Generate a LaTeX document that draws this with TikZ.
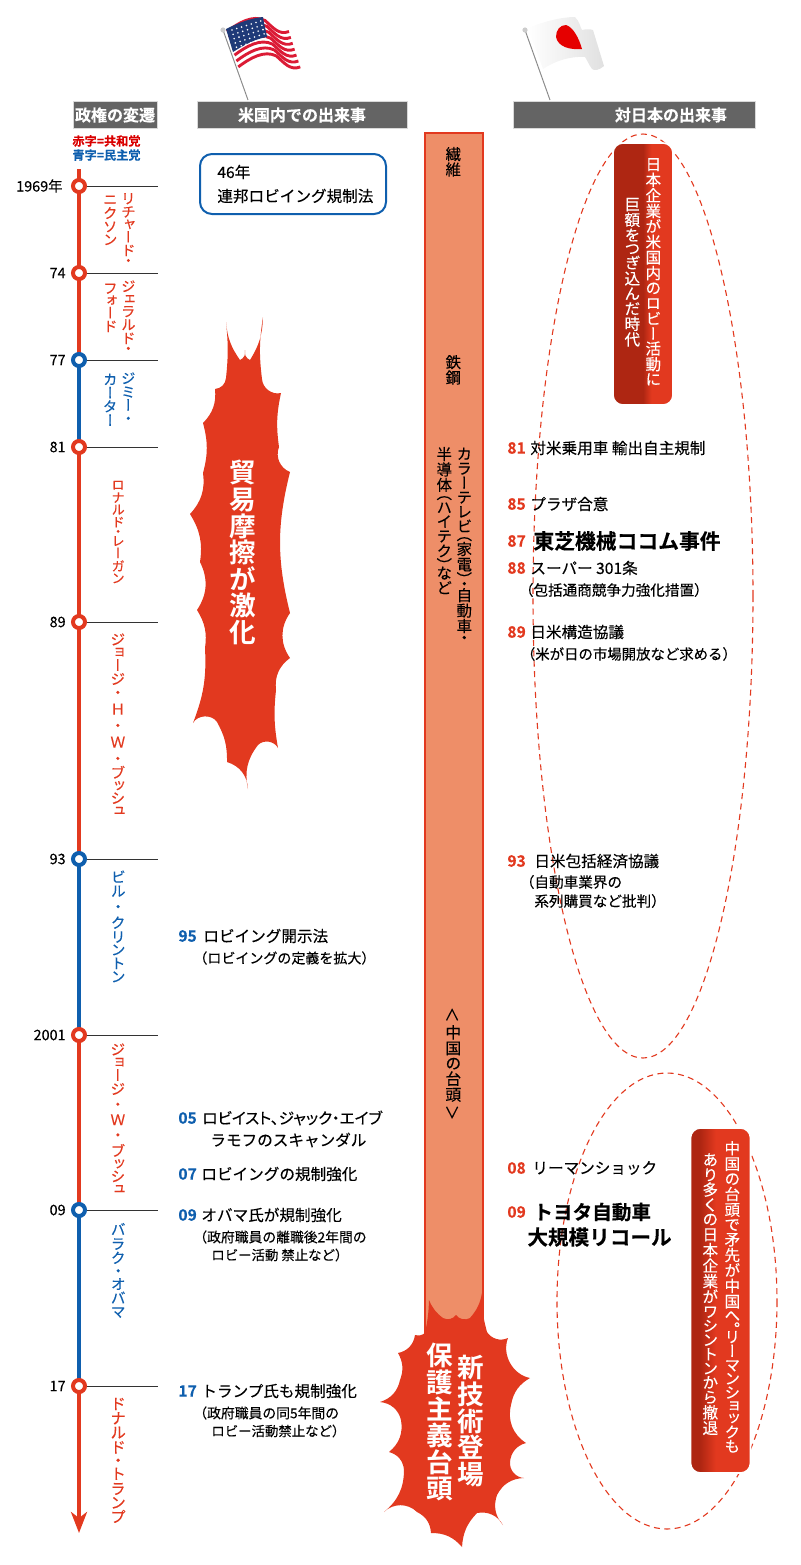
\documentclass[tikz,border=0pt]{standalone}
\usepackage{fontspec}
\setmainfont{Noto Sans CJK JP}[FakeBold=0.25,BoldFont={Noto Sans CJK JP Bold}]
\newfontfamily\tatefont{Noto Sans CJK JP}[RawFeature={vertical;+vpal},FakeBold=0.25]
\newfontfamily\tateboldfont{Noto Sans CJK JP Bold}[RawFeature={vertical}]
\usetikzlibrary{arrows.meta}
\definecolor{redline}{HTML}{E2391F}
\definecolor{darkred}{HTML}{AE2612}
\definecolor{blueline}{HTML}{0F5FAE}
\definecolor{bandfill}{HTML}{EE8E68}
\definecolor{headgray}{HTML}{646464}
\definecolor{flagnavy}{HTML}{1F3A78}
\definecolor{flagred}{HTML}{DB1B35}
\pgfdeclarehorizontalshading{erashadeA}{100bp}{color(0bp)=(darkred); color(50bp)=(darkred); color(57bp)=(redline); color(100bp)=(redline)}
\pgfdeclarehorizontalshading{erashadeB}{100bp}{color(0bp)=(darkred); color(33bp)=(darkred); color(46bp)=(redline); color(100bp)=(redline)}
\tikzset{
    headbox/.style={fill=headgray,draw=black!15,line width=0.4pt,text=white,inner sep=0pt,minimum height=13.5pt,font=\bfseries\fontsize{8}{9}\selectfont},
    tate/.style={xshift=#1*0.4pt,rotate=-90,anchor=west,inner sep=0pt,font=\tatefont\fontsize{#1}{9}\selectfont},
    yeartext/.style={anchor=east,inner sep=0pt,font=\fontsize{7.2}{8}\selectfont},
    evmain/.style={anchor=west,inner sep=0pt,font=\fontsize{7.8}{9}\selectfont},
    evsub/.style={anchor=west,inner sep=0pt,font=\fontsize{#1}{8}\selectfont},
    evbig/.style={anchor=west,inner sep=0pt,font=\bfseries\fontsize{#1}{11}\selectfont},
    numred/.style={anchor=west,inner sep=0pt,text=redline,font=\bfseries\fontsize{7.8}{9}\selectfont},
    numblue/.style={anchor=west,inner sep=0pt,text=blueline,font=\bfseries\fontsize{7.8}{9}\selectfont},
    yeartick/.style={line width=0.4pt,draw=black!80},
    yearstop/.style={circle,fill=white,draw=#1,line width=2pt,minimum size=6pt,inner sep=0pt},
    bursttext/.style={xshift=5.2pt,rotate=-90,anchor=west,inner sep=0pt,text=white,font=\tateboldfont\fontsize{13.3}{15}\selectfont},
    eradash/.style={draw=redline,dashed,dash pattern=on 3pt off 2.2pt,line width=0.55pt},
    erabox/.style={draw=white,line width=0.8pt,rounded corners=5pt,inner sep=0pt,minimum width=30pt},
}
\begin{document}
\begin{tikzpicture}[x=0.5pt,y=-0.5pt]
    \useasboundingbox (0,0) rectangle (800,1565);
    % flags
    \draw[black!45,line width=0.5pt] (223,30) -- (248,100);
    \fill[black!20] (223,30) circle (1.3pt);
    \foreach \t in {0,2,4,6,8,10,12}{
        \pgfmathsetmacro\sx{227+\t*0.94}
        \pgfmathsetmacro\sy{31.5+\t*2.95}
        \draw[flagred,line width=1.45pt] (\sx,\sy) .. controls (\sx+12,\sy-9) and (\sx+26,\sy-17) .. (\sx+38,\sy-11) .. controls (\sx+46,\sy-4) and (\sx+52,\sy+4) .. (\sx+62,\sy);
    }
    \fill[flagnavy] (226,29) .. controls (240,22) and (252,18) .. (263,17) .. controls (264,24) and (266,31) .. (267,37) .. controls (255,39) and (244,45) .. (233,52) -- cycle;
    \foreach \a in {0,...,6}{
        \foreach \b in {0,...,4}{
            \fill[white] (232+\a*4.8+\b*1.1,30-\a*1.5+\b*4.3) circle (0.45pt);
        }
    }
    \draw[black!45,line width=0.5pt] (525,30) -- (550,100);
    \fill[black!20] (525,30) circle (1.3pt);
    \shade[left color=white,right color=black!12] (528,28) .. controls (545,21) and (562,17) .. (575,17) .. controls (580,22) and (580,27) .. (582,30) .. controls (586,29) and (590,29) .. (593,30) -- (604,66) .. controls (600,70) and (594,71) .. (592,69) .. controls (589,65) and (587,60) .. (585,57) .. controls (570,56) and (555,61) .. (543,69) -- cycle;
    \fill[red!90!black] (556,37) .. controls (556,30) and (560,25) .. (566,25) .. controls (573,27) and (579,38) .. (582,49) .. controls (570,50) and (558,47) .. (556,37) -- cycle;
    % headers
    \node[headbox,minimum width=42pt] (headA) at (115,115) {政権の変遷};
    \node[headbox,minimum width=105pt] (headB) at (302,115) {米国内での出来事};
    \node[headbox,minimum width=121pt,text width=121pt,align=left] (headC) at (634,115) {\hspace{51pt}対日本の出来事};
    \node[anchor=west,inner sep=0pt,text=red!85!black,font=\bfseries\fontsize{6.1}{6}\selectfont] (keyred) at (72,141) {赤字=共和党};
    \node[anchor=west,inner sep=0pt,text=blueline,font=\bfseries\fontsize{6.1}{6}\selectfont] (keyblue) at (72,155) {青字=民主党};
    % timeline
    \coordinate (top) at (79,169);
    \coordinate (end) at (79,1533);
    \foreach \y/\nm in {186/sA,273/sB,360/sC,447/sD,622/sE,859/sF,1035/sG,1210/sH,1386/sI}{
        \coordinate (\nm) at (79,\y);
        \coordinate (\nm e) at (158,\y);
    }
    \draw[redline,line width=2.1pt] (top) -- (sC);
    \draw[blueline,line width=2.1pt] (sC) -- (sD);
    \draw[redline,line width=2.1pt] (sD) -- (sF);
    \draw[blueline,line width=2.1pt] (sF) -- (sG);
    \draw[redline,line width=2.1pt] (sG) -- (sH);
    \draw[blueline,line width=2.1pt] (sH) -- (sI);
    \draw[redline,line width=2.1pt,-{Stealth[length=10.5pt,width=8pt,inset=3pt]}] (sI) -- (end);
    \foreach \nm/\col/\lab/\ox/\y in {sA/redline/1969年/63/186,sB/redline/74/66/273,sC/blueline/77/66/360,sD/redline/81/66/447,sE/redline/89/66/622,sF/blueline/93/66/859,sG/redline/2001/66/1035,sH/blueline/09/66/1210,sI/redline/17/66/1386}{
        \draw[yeartick] (\nm) -- (\nm e);
        \node[yearstop=\col] (\nm c) at (\nm) {};
        \node[yeartext] (\nm t) at (\ox,\y) {\lab};
    }
    % presidents
    \node[tate=7.2,text=redline] (presAa) at (128,191) {リチャード・};
    \node[tate=7.2,text=redline] (presAb) at (110,192) {ニクソン};
    \node[tate=7.2,text=redline] (presBa) at (128,279) {ジェラルド・};
    \node[tate=7.2,text=redline] (presBb) at (110,281) {フォード};
    \node[tate=7.2,text=blueline] (presCa) at (128,371) {ジミー\hspace{1.5pt}・};
    \node[tate=7.2,text=blueline] (presCb) at (110,372) {カーター};
    \node[tate=6.6,text=redline] (presD) at (118,478) {ロナルド・レーガン};
    \node[tate=7.4,text=redline] (presE) at (118,632) {ジョージ\hspace{1.5pt}・\hspace{3pt}Ｈ\hspace{3pt}・\hspace{3pt}Ｗ\hspace{3pt}・\hspace{1.5pt}ブッシュ};
    \node[tate=7.4,text=blueline] (presF) at (118,869) {ビル\hspace{2.5pt}・\hspace{2.5pt}クリントン};
    \node[tate=7.4,text=redline] (presG) at (118,1042) {ジョージ\hspace{2.4pt}・\hspace{2.4pt}Ｗ\hspace{2.4pt}・\hspace{2.4pt}ブッシュ};
    \node[tate=7.4,text=blueline] (presH) at (118,1222) {バラク\hspace{1.2pt}・\hspace{1.2pt}オバマ};
    \node[tate=7.8,text=redline] (presI) at (118,1396) {ドナルド\hspace{1pt}・\hspace{1pt}トランプ};
    % events in the US
    \node[draw=blueline,line width=1pt,rounded corners=6pt,minimum width=93pt,minimum height=30pt,inner sep=0pt] (box46) at (293,184) {};
    \node[evmain] (evA) at (217,172) {46年};
    \node[evmain] (evB) at (217,196) {連邦ロビイング規制法};
    \node[numblue] (numA) at (178,936) {95};
    \node[evmain] (evC) at (203,936) {ロビイング開示法};
    \node[evsub=7] (evD) at (193,958) {（ロビイングの定義を拡大）};
    \node[numblue] (numB) at (178,1118) {05};
    \node[evmain] (evE) at (202,1118) {\addfontfeature{RawFeature=+palt}ロビイスト、ジャック・エイブ};
    \node[evmain] (evF) at (210,1140) {ラモフのスキャンダル};
    \node[numblue] (numC) at (178,1174) {07};
    \node[evmain] (evG) at (201,1174) {ロビイングの規制強化};
    \node[numblue] (numD) at (178,1215) {09};
    \node[evmain] (evH) at (201,1215) {オバマ氏が規制強化};
    \node[evsub=6.9] (evI) at (193,1237) {（政府職員の離職後2年間の};
    \node[evsub=6.7] (evJ) at (211,1255) {ロビー活動 禁止など）};
    \node[numblue] (numE) at (178,1391) {17};
    \node[evmain] (evK) at (201,1391) {トランプ氏も規制強化};
    \node[evsub=6.9] (evL) at (193,1413) {（政府職員の同5年間の};
    \node[evsub=6.7] (evM) at (211,1431) {ロビー活動禁止など）};
    % first burst
    \fill[redline] (226,322)
        \foreach \a/\b/\c in {240/360/15,245/350/40,250/360/40,263/317/15,262/379/8,281/393/50,279/447/10,290/472/45,290/613/14,290/658/35,276/690/30,278/748/8,258/745/55,248/789/25,227/762/35,217/722/15,193/723/60,205/648/12,197/610/20,200/562/30,190/514/20,203/473/25,203/423/15,215/389/25,226/378/40,226/322/6}{ to[bend right=\c] (\a,\b) };
    \node[bursttext] (burstA) at (243,459) {貿易摩擦が激化};
    % band of industries
    \fill[bandfill,draw=redline,line width=0.7pt] (425,1340) -- (425,133) -- (483,133) -- (483,1340);
    \node[tate=7.7] (bandA) at (453,146) {繊維};
    \node[tate=7.7] (bandB) at (453,354) {鉄鋼};
    \node[tate=7.7] (bandCa) at (464,446) {カラーテレビ（家電）・自動車・};
    \node[tate=7.7] (bandCb) at (444,446) {半導体（ハイテク）など};
    \node[tate=7.7] (bandDa) at (446,1014) {\rotatebox[origin=c]{-90}{＜}};
    \node[tate=7.9] (bandDb) at (453,1024) {中国の台頭};
    \node[tate=7.7] (bandDc) at (446,1112) {\rotatebox[origin=c]{-90}{＞}};
    % second burst
    \fill[redline] (429,1300)
        \foreach \a/\b/\c in {443/1318/15,456/1315/40,470/1318/40,482/1293/15,487/1332/8,508/1338/40,530/1378/50,511/1405/25,526/1443/35,510/1462/35,524/1478/45,497/1495/30,503/1525/30,477/1513/35,462/1547/20,431/1533/25,417/1512/30,384/1512/45,404/1470/25,389/1452/35,401/1420/30,380/1402/35,400/1380/30,398/1353/25,415/1335/35,425/1333/25,429/1300/5}{ to[bend right=\c] (\a,\b) };
    \node[bursttext] (burstB) at (470,1354) {新技術登場};
    \node[bursttext] (burstC) at (440,1342) {保護主義台頭};
    % events towards Japan
    \draw[eradash] (643,596) circle [x radius=110,y radius=462];
    \draw[eradash] (667,1301) circle [x radius=110,y radius=228];
    \node[erabox,shading=erashadeA,minimum height=131pt] (eraA) at (643,274) {};
    \node[tate=7.8,text=white] (eraAa) at (653,156) {日本企業が米国内のロビー活動に};
    \node[tate=7.8,text=white] (eraAb) at (632,196) {巨額をつぎ込んだ時代};
    \node[erabox,shading=erashadeB,minimum height=172.5pt] (eraB) at (720.5,1300.5) {};
    \node[tate=7.8,text=white] (eraBa) at (732,1140) {中国の台頭で矛先が中国へ。リーマンショックも};
    \node[tate=7.8,text=white] (eraBb) at (710,1152) {あり多くの日本企業がワシントンから撤退};
    \node[numred] (numF) at (507,448) {81};
    \node[evmain] (evN) at (530,448) {対米乗用車 輸出自主規制};
    \node[numred] (numG) at (507,504) {85};
    \node[evmain] (evO) at (530,504) {プラザ合意};
    \node[numred] (numH) at (507,541) {87};
    \node[evbig=10.4] (evP) at (533,541) {東芝機械ココム事件};
    \node[numred] (numI) at (507,568) {88};
    \node[evmain] (evQ) at (530,568) {スーパー 301条};
    \node[evsub=7.3] (evR) at (518.5,590) {（包括通商競争力強化措置）};
    \node[numred] (numJ) at (507,632) {89};
    \node[evmain] (evS) at (530,632) {日米構造協議};
    \node[evsub=7.2] (evT) at (520.5,654) {（米が日の市場開放など求める）};
    \node[numred] (numK) at (507,861) {93};
    \node[evmain] (evU) at (534,861) {日米包括経済協議};
    \node[evsub=7.3] (evV) at (519.5,882) {（自動車業界の};
    \node[evsub=7.3] (evW) at (534,901) {系列購買など批判）};
    \node[numred] (numL) at (507,1168) {08};
    \node[evmain] (evX) at (532,1168) {リーマンショック};
    \node[numred] (numM) at (507,1212) {09};
    \node[evbig=9.8] (evY) at (533,1212) {トヨタ自動車};
    \node[evbig=10.3] (evZ) at (527,1237) {大規模リコール};
\end{tikzpicture}
\end{document}
